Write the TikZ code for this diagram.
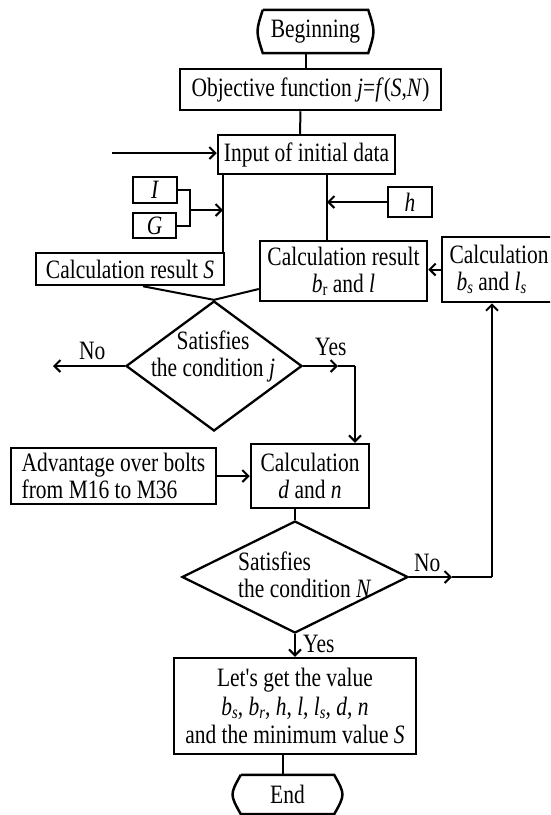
\documentclass[tikz,border=0pt]{standalone}
\usepackage{fontspec}
\setmainfont{Liberation Serif}[FakeStretch=0.81]
\newfontfamily\rmx{Liberation Serif}[FakeStretch=0.81]
\usetikzlibrary{arrows.meta,shapes.geometric}
\newcommand\sbx[1]{\raisebox{-3pt}{\fontsize{18}{18}\selectfont #1}}
\tikzset{
  txt/.style={font=\fontsize{26.5}{27}\selectfont, inner sep=0pt},
  box/.style={txt, draw, line width=2.5pt, rectangle},
  term/.style={txt},
  dia/.style={draw, line width=2.3pt, diamond, inner sep=0pt},
  ln/.style={line width=2pt},
  arr/.style={line width=2pt, -{Straight Barb[length=6pt,width=12pt,line width=2pt]}},
  lbl/.style={txt}
}
\begin{document}
\begin{tikzpicture}[x=1pt,y=-1pt]
\useasboundingbox (0,0) rectangle (550,815);
\clip (0,0) rectangle (550,815);
% terminals
\node[term, minimum width=105pt, minimum height=43pt] (beg) at (315.5,31.5) {Beginning};
\draw[line width=2.5pt] (beg.north west) -- (beg.north east)
  .. controls ([xshift=7pt]beg.east) .. (beg.south east)
  -- (beg.south west)
  .. controls ([xshift=-7pt]beg.west) .. (beg.north west);
\node[term, minimum width=93pt, minimum height=39pt] (fin) at (287.5,794.5) {End};
\draw[line width=2.5pt] (fin.north west) -- (fin.north east)
  .. controls ([xshift=11pt]fin.east) .. (fin.south east)
  -- (fin.south west)
  .. controls ([xshift=-11pt]fin.west) .. (fin.north west);
% boxes
\node[box, minimum width=261pt, minimum height=41pt] (obj) at (310.5,89.5) {Objective function \textit{j}=\textit{f}(\textit{S},\textit{N})};
\node[box, minimum width=177pt, minimum height=39pt] (inp) at (306.5,154.5) {Input of initial data};
\node[box, minimum width=44pt, minimum height=26pt] (ib) at (155,190) {\textit{I}};
\node[box, minimum width=43pt, minimum height=25pt] (gb) at (154.5,225.5) {\textit{G}};
\node[box, minimum width=44pt, minimum height=30pt] (hb) at (410,202) {\textit{h}};
\node[box, minimum width=188pt, minimum height=32pt] (sb) at (130,269) {Calculation result \textit{S}};
\node[box, minimum width=167pt, minimum height=60pt, align=center] (brb) at (343.5,271) {Calculation result\\\textit{b}\sbx{r} and \textit{l}};
\node[box, minimum width=114pt, minimum height=65pt, align=left] (bsb) at (499,269.5) {Calculation\\\hspace*{7pt}\textit{b}\sbx{\textit{s}} and \textit{l}\sbx{\textit{s}}};
\node[box, minimum width=118pt, minimum height=64pt, align=center] (cd) at (310,476) {Calculation\\\textit{d} and \textit{n}};
\node[box, minimum width=205pt, minimum height=56pt, align=left] (adv) at (113.5,476) {Advantage over bolts\\from M16 to M36};
\node[box, minimum width=242pt, minimum height=96pt, align=center, font=\fontsize{26.5}{28.5}\selectfont] (lets) at (295,706) {Let{\rmx'}s get the value\\\textit{b}\sbx{\textit{s}}, \textit{b}\sbx{\textit{r}}, \textit{h}, \textit{l}, \textit{l}\sbx{\textit{s}}, \textit{d}, \textit{n}\hspace*{14pt}\\and the minimum value \textit{S}};
% diamonds
\node[dia, minimum width=176pt, minimum height=130pt] (d1) at (214,366) {};
\node[lbl, align=center] (t1) at (213,356) {Satisfies\\the condition \textit{j}};
\node[dia, minimum width=226pt, minimum height=112pt] (d2) at (295,577) {};
\node[lbl, align=left, anchor=west] (t2) at (238,575) {Satisfies\\the condition \textit{N}};
% labels
\node[lbl, anchor=base west] (no1) at (79,359) {No};
\node[lbl, anchor=base west] (yes1) at (315,355) {Yes};
\node[lbl, anchor=base west] (no2) at (414,571) {No};
\node[lbl, anchor=base west] (yes2) at (303,652) {Yes};
% coordinates
\coordinate (inA) at (112,153);
\coordinate (vL) at (223,174);
\coordinate (vR) at (327,174);
\coordinate (bkT) at (190,190);
\coordinate (bkB) at (190,225.5);
\coordinate (bkM) at (190,210);
\coordinate (noL) at (53,366);
\coordinate (yA) at (338,366);
\coordinate (yC) at (355,366);
\coordinate (nA) at (452,577);
\coordinate (nC) at (492,577);
% connectors
\draw[ln] ([xshift=-10pt]beg.south) -- ([xshift=-5pt]obj.north);
\draw[ln] ([xshift=-10pt]obj.south) -- ([xshift=-6.5pt]inp.north);
\draw[arr] (inA) -- (inA -| inp.west);
\draw[ln] (ib.east) -- (bkT) -- (bkB) -- (gb.east);
\draw[arr] (bkM) -- (bkM -| vL);
\draw[ln] (vL) -- (vL |- sb.north);
\draw[ln] (vR) -- (vR |- brb.north);
\draw[arr] (hb.west) -- (hb.west -| vR);
\draw[arr] (bsb.west) -- (bsb.west -| brb.east);
\draw[ln] ([xshift=13pt]sb.south) -- (d1.north);
\draw[ln] ([yshift=-18pt]brb.west) -- (d1.north);
\draw[arr] (d1.west) -- (noL);
\draw[arr] (d1.east) -- (yA);
\draw[ln] (yA) -- (yC);
\draw[arr] (yC) -- (yC |- cd.north);
\draw[arr] (adv.east) -- (adv.east -| cd.west);
\draw[ln] (d2.north |- cd.south) -- (d2.north);
\draw[arr] (d2.east) -- (nA);
\draw[ln] (nA) -- (nC);
\draw[arr] (nC) -- (nC |- bsb.south);
\draw[arr] (d2.south) -- (d2.south |- lets.north);
\draw[ln] ([xshift=-12pt]lets.south) -- ([xshift=-4.5pt]fin.north);
\end{tikzpicture}
\end{document}
